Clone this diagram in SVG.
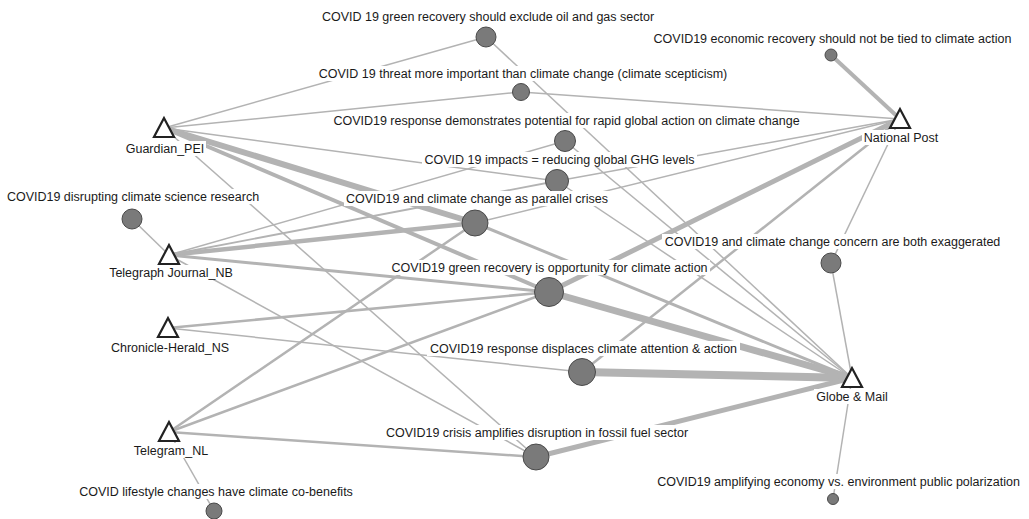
<svg xmlns="http://www.w3.org/2000/svg" width="1029" height="519" viewBox="0 0 1029 519">
<style>
.e line{stroke:#b3b3b3;fill:none}
.f circle{fill:#7a7a7a;stroke:#4a4a4a;stroke-width:1}
.m polygon{fill:#fff;stroke:#222;stroke-width:2.2}
.bg{fill:#fff}
text{font-family:"Liberation Sans",Arial,sans-serif;font-size:12.5px;fill:#1a1a1a;text-anchor:middle}
</style>
<rect width="1029" height="519" fill="#fff"/>
<g id="connectors" class="e">
<line x1="164" y1="128" x2="486" y2="37" stroke-width="1.5"/>
<line x1="164" y1="128" x2="521" y2="92" stroke-width="1.5"/>
<line x1="164" y1="128" x2="557" y2="181" stroke-width="1.5"/>
<line x1="164" y1="128" x2="475" y2="223" stroke-width="6"/>
<line x1="164" y1="128" x2="549" y2="292" stroke-width="4"/>
<line x1="164" y1="128" x2="536" y2="457" stroke-width="1.5"/>
<line x1="169" y1="255" x2="132" y2="219" stroke-width="1.5"/>
<line x1="169" y1="255" x2="565" y2="141" stroke-width="1.5"/>
<line x1="169" y1="255" x2="557" y2="181" stroke-width="1.8"/>
<line x1="169" y1="255" x2="475" y2="223" stroke-width="4.5"/>
<line x1="169" y1="255" x2="549" y2="292" stroke-width="3"/>
<line x1="169" y1="255" x2="536" y2="457" stroke-width="1.5"/>
<line x1="168" y1="328" x2="549" y2="292" stroke-width="2.5"/>
<line x1="168" y1="328" x2="582" y2="372" stroke-width="1.5"/>
<line x1="169" y1="432" x2="475" y2="223" stroke-width="2.5"/>
<line x1="169" y1="432" x2="549" y2="292" stroke-width="2.5"/>
<line x1="169" y1="432" x2="536" y2="457" stroke-width="2.5"/>
<line x1="169" y1="432" x2="214" y2="511" stroke-width="1.5"/>
<line x1="900" y1="119" x2="831" y2="55" stroke-width="4"/>
<line x1="900" y1="119" x2="521" y2="92" stroke-width="1.5"/>
<line x1="900" y1="119" x2="557" y2="181" stroke-width="1.5"/>
<line x1="900" y1="119" x2="475" y2="223" stroke-width="1.5"/>
<line x1="900" y1="119" x2="549" y2="292" stroke-width="5"/>
<line x1="900" y1="119" x2="582" y2="372" stroke-width="2.5"/>
<line x1="900" y1="119" x2="831" y2="263" stroke-width="1.5"/>
<line x1="852" y1="378" x2="486" y2="37" stroke-width="1.5"/>
<line x1="852" y1="378" x2="565" y2="141" stroke-width="1.5"/>
<line x1="852" y1="378" x2="557" y2="181" stroke-width="1.5"/>
<line x1="852" y1="378" x2="475" y2="223" stroke-width="3"/>
<line x1="852" y1="378" x2="549" y2="292" stroke-width="7"/>
<line x1="852" y1="378" x2="582" y2="372" stroke-width="8"/>
<line x1="852" y1="378" x2="536" y2="457" stroke-width="5"/>
<line x1="852" y1="378" x2="831" y2="263" stroke-width="1.5"/>
<line x1="852" y1="378" x2="833" y2="499" stroke-width="1.5"/>
</g>
<g id="f1" class="f"><circle cx="486" cy="37" r="10"/><rect class="bg" x="319" y="9" width="338" height="15"/><text x="488" y="21">COVID 19 green recovery should exclude oil and gas sector</text></g>
<g id="f2" class="f"><circle cx="831" cy="55" r="6"/><rect class="bg" x="651" y="31" width="363" height="15"/><text x="832.5" y="43">COVID19 economic recovery should not be tied to climate action</text></g>
<g id="f3" class="f"><circle cx="521" cy="92" r="8.5"/><rect class="bg" x="316" y="66" width="414" height="15"/><text x="523" y="78">COVID 19 threat more important than climate change (climate scepticism)</text></g>
<g id="f4" class="f"><circle cx="565" cy="141" r="10.5"/><rect class="bg" x="331" y="113" width="471" height="15"/><text x="566.5" y="125">COVID19 response demonstrates potential for rapid global action on climate change</text></g>
<g id="f5" class="f"><circle cx="557" cy="181" r="11.5"/><rect class="bg" x="422" y="152" width="275" height="15"/><text x="559.5" y="164">COVID 19 impacts = reducing global GHG levels</text></g>
<g id="f7" class="f"><circle cx="132" cy="219" r="10"/><rect class="bg" x="5" y="189" width="256" height="15"/><text x="133" y="201">COVID19 disrupting climate science research</text></g>
<g id="f6" class="f"><circle cx="475" cy="223" r="13"/><rect class="bg" x="344" y="191" width="266" height="15"/><text x="477" y="203">COVID19 and climate change as parallel crises</text></g>
<g id="f9" class="f"><circle cx="831" cy="263" r="10"/><rect class="bg" x="662" y="234" width="341" height="15"/><text x="832.5" y="246">COVID19 and climate change concern are both exaggerated</text></g>
<g id="f8" class="f"><circle cx="549" cy="292" r="14.5"/><rect class="bg" x="389" y="260" width="321" height="15"/><text x="549.5" y="272">COVID19 green recovery is opportunity for climate action</text></g>
<g id="f10" class="f"><circle cx="582" cy="372" r="13.5"/><rect class="bg" x="427" y="341" width="313" height="15"/><text x="583.5" y="353">COVID19 response displaces climate attention &amp; action</text></g>
<g id="f11" class="f"><circle cx="536" cy="457" r="13"/><rect class="bg" x="384" y="425" width="306" height="15"/><text x="537" y="437">COVID19 crisis amplifies disruption in fossil fuel sector</text></g>
<g id="f13" class="f"><circle cx="833" cy="499" r="5.5"/><rect class="bg" x="655" y="474" width="367" height="15"/><text x="838.5" y="486">COVID19 amplifying economy vs. environment public polarization</text></g>
<g id="f12" class="f"><circle cx="214" cy="511" r="8"/><rect class="bg" x="77" y="484" width="278" height="15"/><text x="216" y="496">COVID lifestyle changes have climate co-benefits</text></g>
<g id="guardian" class="m"><polygon points="164,118 154,137 174,137"/><rect class="bg" x="124" y="141" width="82" height="15"/><text x="165" y="153">Guardian_PEI</text></g>
<g id="telegraph" class="m"><polygon points="169,245 159,264 179,264"/><rect class="bg" x="106" y="265" width="129" height="15"/><text x="171" y="277">Telegraph Journal_NB</text></g>
<g id="chronicle" class="m"><polygon points="168,318 158,337 178,337"/><rect class="bg" x="108" y="340" width="123" height="15"/><text x="170" y="352">Chronicle-Herald_NS</text></g>
<g id="telegram" class="m"><polygon points="169,422 159,441 179,441"/><rect class="bg" x="131" y="443" width="79" height="15"/><text x="171" y="455">Telegram_NL</text></g>
<g id="nationalpost" class="m"><polygon points="900,109 890,128 910,128"/><rect class="bg" x="862" y="130" width="79" height="15"/><text x="901" y="142">National Post</text></g>
<g id="globe" class="m"><polygon points="852,368 842,387 862,387"/><rect class="bg" x="814" y="389" width="76" height="15"/><text x="852" y="401">Globe &amp; Mail</text></g>
</svg>
